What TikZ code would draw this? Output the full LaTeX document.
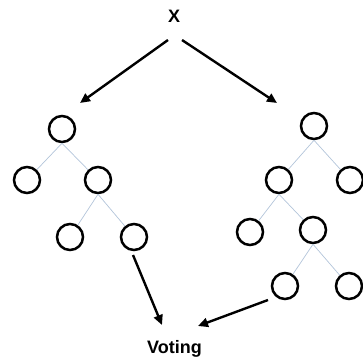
\documentclass[tikz,border=0pt]{standalone}
\usepackage{fontspec}
\setmainfont{Liberation Sans}
\usetikzlibrary{arrows.meta}
\tikzset{
  vertex/.style={circle, draw=black, line width=2.5pt, minimum size=26pt, inner sep=0pt},
  branch/.style={draw=edgeblue, line width=0.7pt},
  flow/.style={draw=black, line width=2.4pt, -{Triangle[length=10pt,width=9pt]}},
  label/.style={font=\fontsize{18}{21}\selectfont\bfseries, inner sep=0pt}
}
\definecolor{edgeblue}{HTML}{B3C5DA}
\begin{document}
\begin{tikzpicture}[x=1pt,y=-1pt]
  \useasboundingbox (0,0) rectangle (363,356);

  % labels
  \node[label, anchor=base] (X) at (174,22) {X};
  \node[label, anchor=base] (V) at (174.5,353) {Voting};

  % left tree
  \node[vertex] (a)   at (62,129) {};
  \node[vertex] (al)  at (27,180) {};
  \node[vertex] (ar)  at (98,180) {};
  \node[vertex] (arl) at (70,237) {};
  \node[vertex] (arr) at (134,237) {};

  % right tree
  \node[vertex] (b)    at (314,126) {};
  \node[vertex] (bl)   at (279,180) {};
  \node[vertex] (br)   at (350,180) {};
  \node[vertex] (bll)  at (250,232) {};
  \node[vertex] (blr)  at (313,230) {};
  \node[vertex] (blrl) at (285,286) {};
  \node[vertex] (blrr) at (349,286) {};

  % tree branches
  \draw[branch] (a.south) -- (al);
  \draw[branch] (a.south) -- (ar);
  \draw[branch] (ar.south) -- (arl);
  \draw[branch] (ar.south) -- (arr);
  \draw[branch] (b.south) -- (bl);
  \draw[branch] (b.south) -- (br);
  \draw[branch] (bl.south) -- (bll);
  \draw[branch] (bl.south) -- (blr);
  \draw[branch] (blr.south) -- (blrl);
  \draw[branch] (blr.south) -- (blrr);

  % arrow ends
  \coordinate (xl) at (168,40);
  \coordinate (xr) at (182,40);
  \coordinate (ta) at (80,103);
  \coordinate (tb) at (277,103);
  \coordinate (sa) at (133,255);
  \coordinate (sb) at (268,300);
  \coordinate (va) at (162,325);
  \coordinate (vb) at (198,326);

  % flow arrows
  \draw[flow] (xl) -- (ta);
  \draw[flow] (xr) -- (tb);
  \draw[flow] (sa) -- (va);
  \draw[flow] (sb) -- (vb);
\end{tikzpicture}
\end{document}
